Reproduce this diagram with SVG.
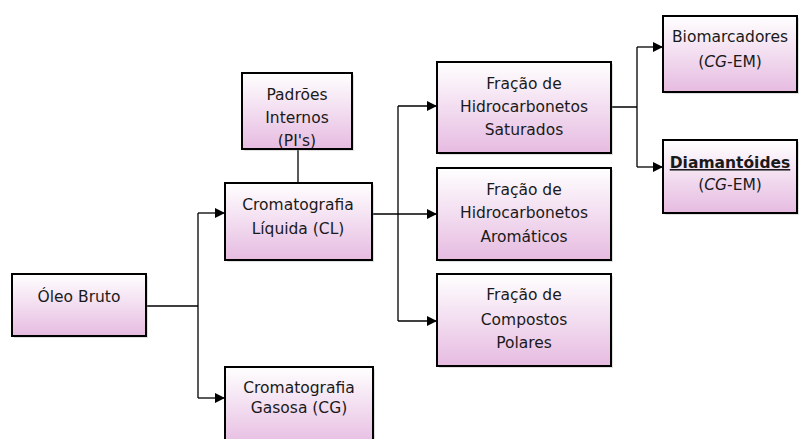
<svg xmlns="http://www.w3.org/2000/svg" width="799" height="439" viewBox="0 0 799 439">
<defs>
<linearGradient id="g" x1="0" y1="0" x2="0" y2="1">
<stop offset="0" stop-color="#FFFFFF"/>
<stop offset="1" stop-color="#E6BBE1"/>
</linearGradient>
<marker id="ar" markerWidth="10" markerHeight="10" refX="10" refY="5" orient="auto" markerUnits="userSpaceOnUse">
<path d="M0,0 L10,5 L0,10 z" fill="#000"/>
</marker>
</defs>
<style>
.box{fill:url(#g);stroke:#000;stroke-width:2}
.sh{fill:#999;opacity:0.3}
.t{font-family:"DejaVu Sans",sans-serif;font-size:15.5px;fill:#1a1a1a;text-anchor:middle}
.c{fill:none;stroke:#000;stroke-width:1.3}
.a{fill:none;stroke:#000;stroke-width:1.3;marker-end:url(#ar)}
</style>
<rect width="799" height="439" fill="#fff"/>
<g id="connectors">
<path class="c" d="M146,306 H198 M198,213 V398"/>
<path class="a" d="M198,213 H225"/>
<path class="a" d="M198,398 H225"/>
<path class="c" d="M298,149 V183"/>
<path class="c" d="M372,214 H398 M398,106 V321"/>
<path class="a" d="M398,106 H437"/>
<path class="a" d="M398,214 H437"/>
<path class="a" d="M398,321 H437"/>
<path class="c" d="M611,107 H637 M637,47 V167"/>
<path class="a" d="M637,47 H663"/>
<path class="a" d="M637,167 H663"/>
</g>
<g id="oleo">
<rect class="sh" x="14" y="276" width="134" height="62"/>
<rect class="box" x="12" y="274" width="134" height="62"/>
<text class="t" x="79" y="302">Óleo Bruto</text>
</g>
<g id="padroes">
<rect class="sh" x="244" y="75" width="110" height="76"/>
<rect class="box" x="242" y="73" width="110" height="76"/>
<text class="t" x="297" y="100">Padrões</text>
<text class="t" x="297" y="123">Internos</text>
<text class="t" x="297" y="146">(PI's)</text>
</g>
<g id="cl">
<rect class="sh" x="227" y="185" width="147" height="77"/>
<rect class="box" x="225" y="183" width="147" height="77"/>
<text class="t" x="298" y="210">Cromatografia</text>
<text class="t" x="298" y="234">Líquida (CL)</text>
</g>
<g id="cg">
<rect class="sh" x="227" y="369" width="148" height="80"/>
<rect class="box" x="225" y="367" width="148" height="80"/>
<text class="t" x="299" y="393">Cromatografia</text>
<text class="t" x="299" y="413">Gasosa (CG)</text>
</g>
<g id="saturados">
<rect class="sh" x="439" y="64" width="174" height="91"/>
<rect class="box" x="437" y="62" width="174" height="91"/>
<text class="t" x="524" y="89">Fração de</text>
<text class="t" x="524" y="112">Hidrocarbonetos</text>
<text class="t" x="524" y="135">Saturados</text>
</g>
<g id="aromaticos">
<rect class="sh" x="439" y="170" width="174" height="92"/>
<rect class="box" x="437" y="168" width="174" height="92"/>
<text class="t" x="524" y="195">Fração de</text>
<text class="t" x="524" y="218">Hidrocarbonetos</text>
<text class="t" x="524" y="242">Aromáticos</text>
</g>
<g id="polares">
<rect class="sh" x="439" y="276" width="174" height="92"/>
<rect class="box" x="437" y="274" width="174" height="92"/>
<text class="t" x="524" y="300">Fração de</text>
<text class="t" x="524" y="325">Compostos</text>
<text class="t" x="524" y="348">Polares</text>
</g>
<g id="biomarcadores">
<rect class="sh" x="665" y="18" width="134" height="76"/>
<rect class="box" x="663" y="16" width="134" height="76"/>
<text class="t" x="730" y="42">Biomarcadores</text>
<text class="t" x="730" y="67">(<tspan font-style="italic">CG</tspan>-EM)</text>
</g>
<g id="diamantoides">
<rect class="sh" x="665" y="142" width="134" height="73"/>
<rect class="box" x="663" y="140" width="134" height="73"/>
<text class="t" x="730" y="168" font-weight="bold" text-decoration="underline">Diamantóides</text>
<text class="t" x="730" y="190">(<tspan font-style="italic">CG</tspan>-EM)</text>
</g>
</svg>
